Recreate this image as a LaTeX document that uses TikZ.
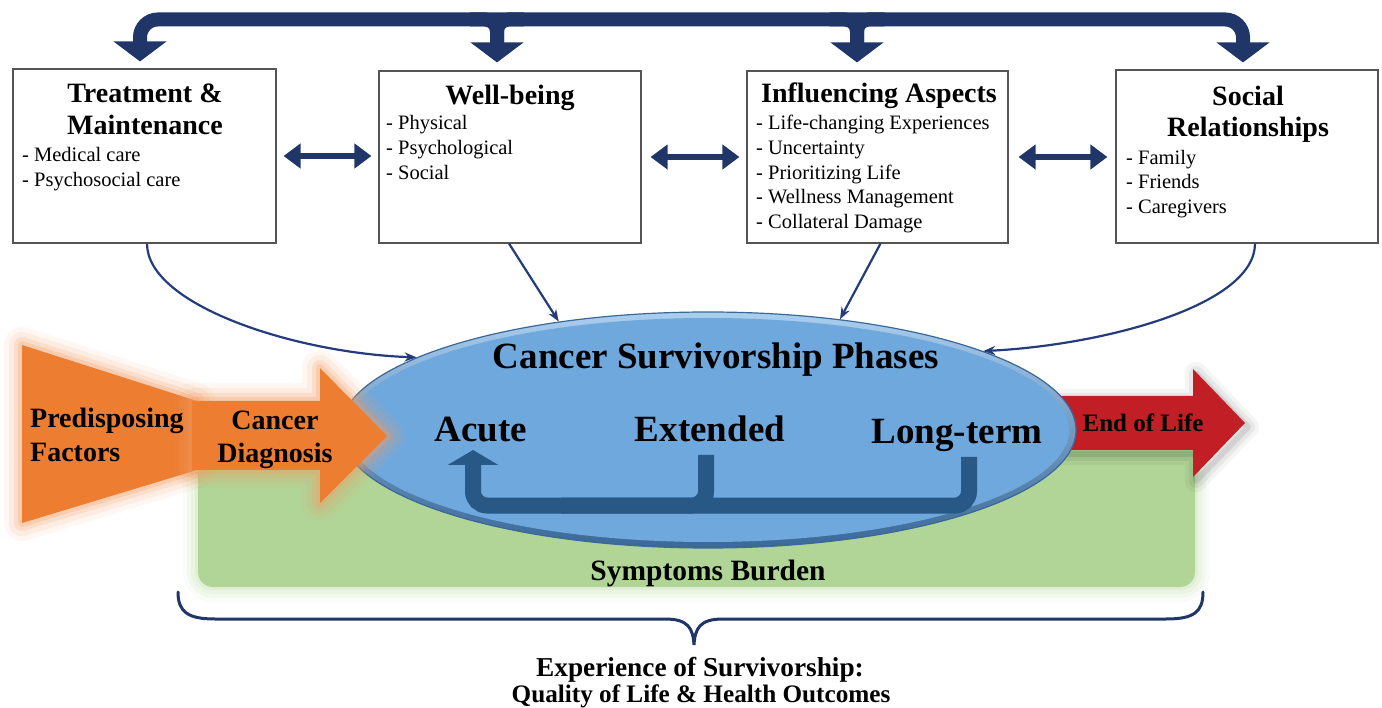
\documentclass[tikz,border=0pt]{standalone}
\usepackage{fontspec}
\setmainfont{Liberation Serif}
\usetikzlibrary{arrows.meta,shapes.geometric,calc}

\definecolor{navy}{RGB}{32,54,104}
\definecolor{linknavy}{RGB}{36,60,124}
\definecolor{phaseblue}{RGB}{111,168,220}
\definecolor{phaseedge}{RGB}{58,104,152}
\definecolor{phaselight}{RGB}{170,206,238}
\definecolor{loopblue}{RGB}{40,88,134}
\definecolor{burden}{RGB}{176,213,150}
\definecolor{predisp}{RGB}{237,125,49}
\definecolor{endlife}{RGB}{193,30,38}
\definecolor{boxline}{RGB}{85,85,85}

\tikzset{
  infobox/.style={draw=boxline, line width=1.1pt, fill=white, inner sep=0pt},
  boxtitle/.style={font=\fontsize{28}{32}\selectfont\bfseries, anchor=base, inner sep=0pt},
  boxitem/.style={font=\fontsize{20.5}{24}\selectfont, anchor=base west, inner sep=0pt},
  phasetext/.style={font=\fontsize{37}{40}\selectfont\bfseries, anchor=base, inner sep=0pt},
  flowtext/.style={font=\fontsize{28}{32}\selectfont\bfseries, anchor=base, inner sep=0pt},
  topbar/.style={draw=navy, line width=14pt, rounded corners=18pt,
    {Triangle[width=52pt,length=20pt]}-{Triangle[width=52pt,length=20pt]}},
  branch/.style={draw=navy, line width=14pt, rounded corners=12pt,
    -{Triangle[width=52pt,length=20pt]}},
  fillet/.style={draw=navy, line width=14pt, rounded corners=12pt},
  link/.style={draw=navy, line width=6.5pt,
    {Triangle[width=24pt,length=17pt]}-{Triangle[width=24pt,length=17pt]}},
  feed/.style={draw=linknavy, line width=2.2pt, -{Stealth[length=12pt,width=9pt]}},
  loopbar/.style={draw=loopblue, line width=16pt, rounded corners=14pt},
}

\begin{document}
\begin{tikzpicture}[x=1pt,y=-1pt]
\useasboundingbox (0,0) rectangle (1382,708);

% ---------- symptoms burden field ----------
\foreach \w/\op in {30/0.10,22/0.14,14/0.2,6/0.3}
  \draw[burden!70, line width=\w pt, opacity=\op, rounded corners=15pt]
    (198,440) rectangle (1195,587);
\fill[burden, rounded corners=15pt] (198,440) rectangle (1195,587);

% ---------- end of life arrow ----------
\foreach \w/\op in {22/0.04,14/0.06,6/0.09}
  \draw[black, line width=\w pt, opacity=\op, line join=round, shift={(3,4)}]
    (1040,396) -- (1193,396) -- (1193,369) -- (1245,423) -- (1193,477) -- (1193,450) -- (1040,450) -- cycle;
\fill[endlife] (1040,396) -- (1193,396) -- (1193,369) -- (1245,423) -- (1193,477) -- (1193,450) -- (1040,450) -- cycle;

% ---------- survivorship phases ellipse ----------
\node[ellipse, minimum width=736pt, minimum height=236pt, inner sep=0pt,
      top color=phaselight, bottom color=phaseedge, draw=phaseedge, line width=1.2pt] (cs) at (708,430) {};
\fill[phaseblue] (cs.center) ellipse [x radius=361pt, y radius=112pt];

% ---------- predisposing factors and diagnosis ----------
\foreach \w/\op in {36/0.08,26/0.12,16/0.18,8/0.28}
  \draw[predisp!75, line width=\w pt, opacity=\op, line join=round]
    (22,345) -- (197,401) -- (197,470) -- (22,523) -- cycle;
\fill[predisp] (22,345) -- (197,401) -- (197,470) -- (22,523) -- cycle;
\foreach \w/\op in {36/0.08,26/0.12,16/0.18,8/0.28}
  \draw[predisp!75, line width=\w pt, opacity=\op, line join=round]
    (192,401) -- (320,401) -- (320,368) -- (387,436) -- (320,503) -- (320,470) -- (192,470) -- cycle;
\fill[predisp] (192,401) -- (320,401) -- (320,368) -- (387,436) -- (320,503) -- (320,470) -- (192,470) -- cycle;

\node[flowtext, anchor=base west] (pf1) at (30,428) {Predisposing};
\node[flowtext, anchor=base west] (pf2) at (30,462) {Factors};
\node[flowtext] (cd1) at (275,430) {Cancer};
\node[flowtext] (cd2) at (275,463) {Diagnosis};
\node[font=\fontsize{25}{28}\selectfont\bfseries, anchor=base, inner sep=0pt] (el) at (1143,432) {End of Life};

% ---------- phase labels and recurrence loop ----------
\node[phasetext] (cst) at (716,369) {Cancer Survivorship Phases};
\node[phasetext] (ac) at (481,442) {Acute};
\node[phasetext] (ex) at (710,442) {Extended};
\node[phasetext] (lt) at (957,443) {Long-term};

\draw[loopbar] ($(ex.base)+(-4,13)$) |- ($(ac.base)+(80,63.5)$);
\draw[loopbar, -{Triangle[width=50pt,length=15pt]}]
  ($(lt.base)+(12,14)$) |- ($(ac.base)+(-8,63.5)$) -- ($(ac.base)+(-8,8)$);

\node[font=\fontsize{29.5}{32}\selectfont\bfseries, anchor=base, inner sep=0pt] (sb) at (708,580) {Symptoms Burden};

% ---------- the four domain boxes ----------
\node[infobox, minimum width=263pt, minimum height=174pt] (tm) at (144.5,156) {};
\node[infobox, minimum width=262pt, minimum height=172pt] (wb) at (510,157) {};
\node[infobox, minimum width=261pt, minimum height=172pt] (ia) at (877.5,157) {};
\node[infobox, minimum width=262pt, minimum height=173pt] (sr) at (1247,156.5) {};

\node[boxtitle] (tmt1) at (145,103) {Treatment \&};
\node[boxtitle] (tmt2) at (145,135) {Maintenance};
\node[boxitem] (tmi1) at (22,162) {- Medical care};
\node[boxitem] (tmi2) at (22,187) {- Psychosocial care};

\node[boxtitle] (wbt) at (510,105) {Well-being};
\node[boxitem] (wbi1) at (386,130) {- Physical};
\node[boxitem] (wbi2) at (386,155) {- Psychological};
\node[boxitem] (wbi3) at (386,180) {- Social};

\node[boxtitle] (iat) at (879,103) {Influencing Aspects};
\node[boxitem] (iai1) at (756,130) {- Life-changing Experiences};
\node[boxitem] (iai2) at (756,155) {- Uncertainty};
\node[boxitem] (iai3) at (756,180) {- Prioritizing Life};
\node[boxitem] (iai4) at (756,204) {- Wellness Management};
\node[boxitem] (iai5) at (756,229) {- Collateral Damage};

\node[boxtitle] (srt1) at (1248,106) {Social};
\node[boxtitle] (srt2) at (1248,137) {Relationships};
\node[boxitem] (sri1) at (1126,165) {- Family};
\node[boxitem] (sri2) at (1126,189) {- Friends};
\node[boxitem] (sri3) at (1126,214) {- Caregivers};

% ---------- top distribution bar ----------
\draw[topbar] ([xshift=-4.5pt,yshift=7pt]tm.north) |- ($(sr.north)+(-4,-50)$) -- ([xshift=-4pt,yshift=7pt]sr.north);
\draw[branch] ($(wb.north)+(-40,-51)$) -| ([xshift=-13pt,yshift=8pt]wb.north);
\draw[fillet] ($(wb.north)+(14,-51)$) -| ([xshift=-13pt,yshift=24pt]wb.north);
\draw[branch] ($(ia.north)+(-48,-51)$) -| ([xshift=-20.5pt,yshift=8pt]ia.north);
\draw[fillet] ($(ia.north)+(7,-51)$) -| ([xshift=-20.5pt,yshift=24pt]ia.north);

% ---------- links between boxes ----------
\draw[link] ([xshift=7pt]tm.east) -- ([xshift=-7pt]tm.east -| wb.west);
\draw[link] ([xshift=9pt]wb.east) -- ([xshift=-7pt]wb.east -| ia.west);
\draw[link] ([xshift=10pt]ia.east) -- ([xshift=-8pt]ia.east -| sr.west);

% ---------- influences on the phases ----------
\draw[feed] ([xshift=2.5pt]tm.south) .. controls +(0,62) and +(-120,-4) .. (cs.166);
\draw[feed] ([xshift=-1pt]wb.south) -- (cs.144);
\draw[feed] ([xshift=3pt]ia.south) -- (cs.40);
\draw[feed] ([xshift=8pt]sr.south) .. controls +(0,62) and +(120,-6) .. (cs.16);

% ---------- outcome brace ----------
\draw[navy, line width=3pt, line cap=round]
  (178,592) .. controls (178,612) and (188,619) .. (215,619) -- (665,619)
  .. controls (688,619) and (693,628) .. (694,645)
  .. controls (695,628) and (700,619) .. (723,619) -- (1166,619)
  .. controls (1194,619) and (1203,612) .. (1203,592);
\node[font=\fontsize{27.3}{30}\selectfont\bfseries, anchor=base, inner sep=0pt] (eos) at (700,676) {Experience of Survivorship:};
\node[font=\fontsize{25.2}{28}\selectfont\bfseries, anchor=base, inner sep=0pt] (qol) at (701,702) {Quality of Life \& Health Outcomes};
\end{tikzpicture}
\end{document}
